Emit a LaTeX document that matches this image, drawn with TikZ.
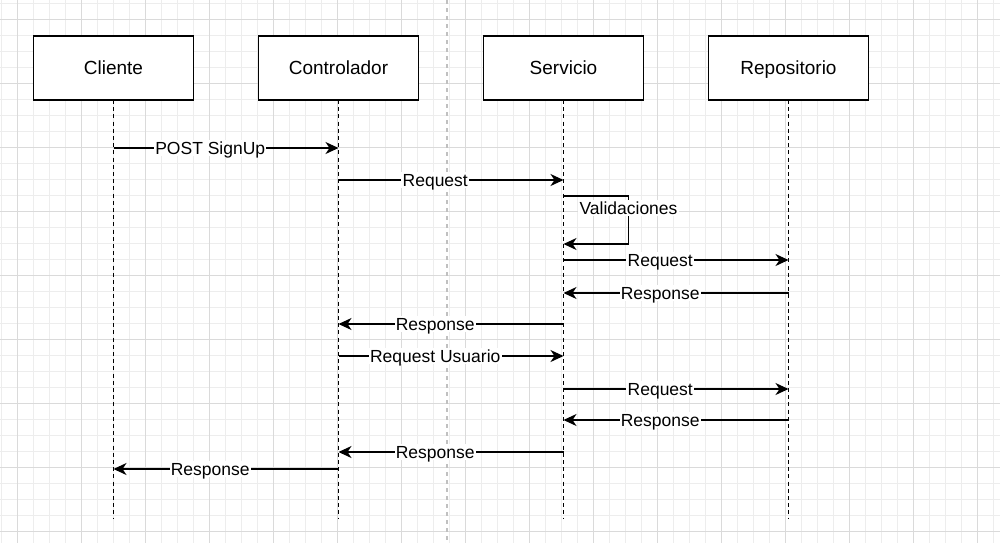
\documentclass[tikz,border=0pt]{standalone}
\usepackage{fontspec}
\setmainfont{Liberation Sans}
\usepackage{tikz}
\usetikzlibrary{arrows.meta,positioning}

\definecolor{gridminor}{HTML}{EDEDED}
\definecolor{gridmajor}{HTML}{DADADA}
\definecolor{pagebreak}{HTML}{C0C0C0}

\begin{document}
\begin{tikzpicture}[x=0.5pt, y=-0.5pt, >={Stealth[length=6.5pt,width=6pt,inset=2pt]},
    actor/.style={rectangle, draw, line width=0.65pt, fill=white, outer sep=0pt, minimum width=80pt, minimum height=32pt, text height=7pt, text depth=0.2pt, font=\fontsize{9.5}{11}\selectfont},
    lifeline/.style={draw, line width=0.6pt, dash pattern=on 2pt off 1.6pt},
    msg/.style={draw, ->, line width=0.65pt},
    lbl/.style={fill=white, inner sep=0.6pt, text height=6.5pt, text depth=0.2pt, font=\fontsize{8.75}{10}\selectfont}]

    \useasboundingbox (0,0) rectangle (1000,543);
    \fill[white] (0,0) rectangle (1000,543);

    % Grid
    \foreach \gx in {1,17,...,993} \draw[gridminor, line width=0.5pt] (\gx,0) -- (\gx,543);
    \foreach \gy in {3,19,...,543} \draw[gridminor, line width=0.5pt] (0,\gy) -- (1000,\gy);
    \foreach \gx in {17,81,...,977} \draw[gridmajor, line width=0.5pt] (\gx,0) -- (\gx,543);
    \foreach \gy in {19,83,...,531} \draw[gridmajor, line width=0.5pt] (0,\gy) -- (1000,\gy);
    \draw[pagebreak, line width=0.6pt, dash pattern=on 2pt off 2pt] (447,0) -- (447,543);

    % Participants
    \node [actor] (cliente) at (113.5,68) {Cliente};
    \node [actor, right=32.5pt of cliente] (controlador) {Controlador};
    \node [actor, right=32.5pt of controlador] (servicio) {Servicio};
    \node [actor, right=32.5pt of servicio] (repositorio) {Repositorio};

    % Lifelines
    \path [lifeline] (cliente.south) -- (cliente.south |- 0,518);
    \path [lifeline] (controlador.south) -- (controlador.south |- 0,518);
    \path [lifeline] (servicio.south) -- (servicio.south |- 0,518);
    \path [lifeline] (repositorio.south) -- (repositorio.south |- 0,518);

    % Messages
    \path [msg] (cliente |- 0,148) -- node[lbl, pos=0.43] {POST SignUp} (controlador |- 0,148);
    \path [msg] (controlador |- 0,180) -- node[lbl, pos=0.43] {Request} (servicio |- 0,180);
    \path [msg] (servicio |- 0,196) -- ++(65,0) -- node[lbl, pos=0.25] {Validaciones} ++(0,48) -- (servicio |- 0,244);
    \path [msg] (servicio |- 0,260) -- node[lbl, pos=0.43] {Request} (repositorio |- 0,260);
    \path [msg] (repositorio |- 0,293) -- node[lbl, pos=0.57] {Response} (servicio |- 0,293);
    \path [msg] (servicio |- 0,324) -- node[lbl, pos=0.57] {Response} (controlador |- 0,324);
    \path [msg] (controlador |- 0,356) -- node[lbl, pos=0.43] {Request Usuario} (servicio |- 0,356);
    \path [msg] (servicio |- 0,389) -- node[lbl, pos=0.43] {Request} (repositorio |- 0,389);
    \path [msg] (repositorio |- 0,420) -- node[lbl, pos=0.57] {Response} (servicio |- 0,420);
    \path [msg] (servicio |- 0,452) -- node[lbl, pos=0.57] {Response} (controlador |- 0,452);
    \path [msg] (controlador |- 0,469) -- node[lbl, pos=0.57] {Response} (cliente |- 0,469);

\end{tikzpicture}
\end{document}
